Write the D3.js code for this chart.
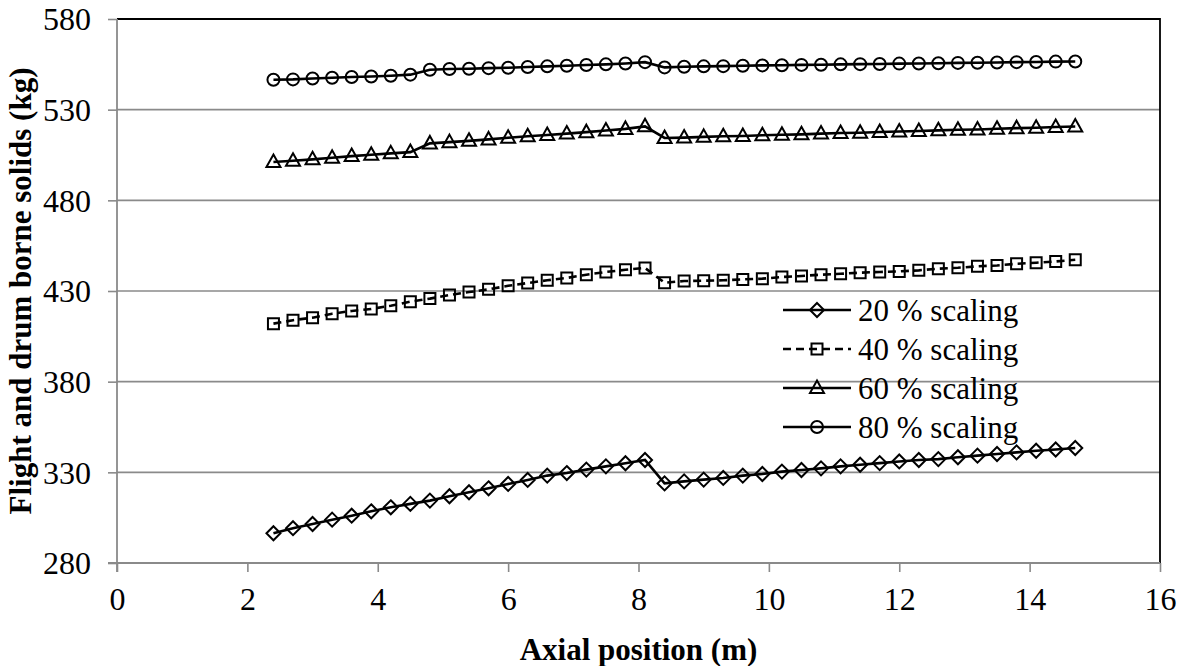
<!DOCTYPE html>
<html>
<head>
<meta charset="utf-8">
<script src="https://cdn.jsdelivr.net/npm/d3@7"></script>
<style>
  html, body { margin: 0; padding: 0; background: #fff; }
  svg { display: block; }
  svg text { font-family: "Liberation Serif", "Times New Roman", Times, serif; }
</style>
</head>
<body>
<svg id="chart" width="1186" height="666"></svg>
<script>
// Axial positions along the drum (m)
const positions = [2.4, 2.7, 3.0, 3.3, 3.6, 3.9, 4.2, 4.5, 4.8, 5.1, 5.4, 5.7, 6.0, 6.3,
  6.6, 6.9, 7.2, 7.5, 7.8, 8.1, 8.4, 8.7, 9.0, 9.3, 9.6, 9.9, 10.2, 10.5, 10.8, 11.1,
  11.4, 11.7, 12.0, 12.3, 12.6, 12.9, 13.2, 13.5, 13.8, 14.1, 14.4, 14.7];

// Flight and drum borne solids (kg) for each scaling case
const scaling20 = [296.4, 299.2, 301.5, 303.9, 306.1, 308.5, 310.7, 312.6, 314.4, 316.8,
  319.0, 321.2, 323.6, 325.8, 328.2, 329.6, 331.5, 333.3, 335.0, 336.8,
  323.9, 325.0, 326.0, 326.9, 328.2, 329.1, 330.4, 331.3, 332.2, 333.3, 334.2,
  335.1, 336.0, 336.8, 337.3, 338.3, 339.2, 340.1, 341.0, 341.9, 342.6, 343.4];

const scaling40 = [412.0, 413.9, 415.3, 417.5, 419.0, 420.1, 421.9, 424.1, 425.8, 427.8,
  429.4, 430.9, 432.9, 434.4, 435.9, 437.2, 439.0, 440.5, 441.7, 442.7,
  434.6, 435.5, 435.7, 435.9, 436.4, 436.8, 437.7, 438.3, 439.0, 439.5, 440.1,
  440.5, 440.8, 441.4, 442.3, 442.8, 443.6, 444.1, 445.0, 445.6, 446.3, 447.2];

const scaling60 = [501.1, 501.8, 502.6, 503.5, 504.4, 505.1, 505.9, 506.6, 511.4, 512.1,
  512.8, 513.6, 514.5, 515.3, 516.0, 516.8, 517.6, 518.5, 519.4, 520.8,
  514.4, 514.6, 515.0, 515.3, 515.5, 515.9, 516.2, 516.4, 516.8, 517.1, 517.3,
  517.7, 518.0, 518.2, 518.6, 518.9, 519.1, 519.5, 519.8, 520.0, 520.4, 520.7];

const scaling80 = [546.5, 546.7, 547.2, 547.6, 548.0, 548.3, 548.7, 549.3, 552.0, 552.4,
  552.6, 552.9, 553.1, 553.5, 553.9, 554.2, 554.6, 555.0, 555.5, 556.2,
  553.3, 553.7, 553.9, 554.0, 554.2, 554.4, 554.5, 554.7, 554.8, 555.0, 555.1,
  555.2, 555.4, 555.5, 555.6, 555.8, 555.9, 556.0, 556.2, 556.3, 556.5, 556.6];

const seriesNames = ["20 % scaling", "40 % scaling", "60 % scaling", "80 % scaling"];
const markerKinds = ["diamond", "square", "triangle", "circle"];
const lineDashes = [null, "8,5", null, null];

const xTicks = [0, 2, 4, 6, 8, 10, 12, 14, 16];
const yTicks = [280, 330, 380, 430, 480, 530, 580];

const xTitle = "Axial position (m)";
const yTitle = "Flight and drum borne solids (kg)";

// ---- layout ----
const serif = "'Liberation Serif', 'Times New Roman', Times, serif";
const plot = { left: 117, right: 1160, top: 19, bottom: 563 };
const gridColor = "#8a8a8a";

const svg = d3.select("#chart");
const x = d3.scaleLinear().domain([0, 16]).range([plot.left, plot.right]);
const y = d3.scaleLinear().domain([280, 580]).range([plot.bottom, plot.top]);

// horizontal gridlines
svg.append("g")
  .selectAll("line")
  .data(yTicks.filter(v => v !== 280 && v !== 580))
  .join("line")
  .attr("x1", plot.left).attr("x2", plot.right)
  .attr("y1", d => y(d)).attr("y2", d => y(d))
  .attr("stroke", gridColor).attr("stroke-width", 1.6);

// top and right frame
svg.append("path")
  .attr("d", `M${plot.left},${y(580)}H${plot.right}V${plot.bottom}`)
  .attr("fill", "none").attr("stroke", "#000").attr("stroke-width", 1.8);

// y axis
const yAxis = svg.append("g")
  .attr("transform", `translate(${plot.left},0)`)
  .call(d3.axisLeft(y).tickValues(yTicks).tickSize(9).tickPadding(17).tickSizeOuter(0));
yAxis.attr("font-family", serif);
yAxis.select(".domain").attr("stroke", gridColor).attr("stroke-width", 1.8)
  .attr("d", `M0,${plot.top}V${plot.bottom + 9}`);
yAxis.selectAll(".tick line").attr("stroke", gridColor).attr("stroke-width", 1.6);
yAxis.selectAll(".tick text")
  .attr("font-size", 32).attr("fill", "#000").attr("dy", "0.34em");

// x axis
const xAxis = svg.append("g")
  .attr("transform", `translate(0,${plot.bottom})`)
  .call(d3.axisBottom(x).tickValues(xTicks).tickSize(9).tickPadding(14).tickSizeOuter(0));
xAxis.attr("font-family", serif);
xAxis.select(".domain").attr("stroke", gridColor).attr("stroke-width", 1.8)
  .attr("d", `M${plot.left - 9},0H${plot.right}`);
xAxis.selectAll(".tick line").attr("stroke", gridColor).attr("stroke-width", 1.6);
xAxis.selectAll(".tick text")
  .attr("font-size", 32).attr("fill", "#000").attr("dy", "0.74em");

// axis titles
svg.append("text")
  .attr("x", (plot.left + plot.right) / 2).attr("y", 660)
  .attr("text-anchor", "middle")
  .attr("font-weight", "bold").attr("font-size", 31)
  .text(xTitle);

svg.append("text")
  .attr("transform", `translate(31,${(plot.top + plot.bottom) / 2}) rotate(-90)`)
  .attr("text-anchor", "middle")
  .attr("font-weight", "bold").attr("font-size", 31)
  .text(yTitle);

// marker shapes, centred on (0,0)
function markerPath(kind) {
  switch (kind) {
    case "diamond": return "M0,-7L7,0L0,7L-7,0Z";
    case "square": return "M-5.5,-5.5H5.5V5.5H-5.5Z";
    default: return "M0,-7.5L7,5L-7,5Z";
  }
}

function drawMarker(g, kind) {
  if (kind === "circle") {
    g.append("circle").attr("r", 6);
  } else {
    g.append("path").attr("d", markerPath(kind));
  }
  g.selectAll("*").attr("fill", "none").attr("stroke", "#000").attr("stroke-width", 2);
}

const allSeries = [scaling20, scaling40, scaling60, scaling80];
const line = d3.line().x((d, i) => x(positions[i])).y(d => y(d));

allSeries.forEach((vals, s) => {
  const g = svg.append("g");
  g.append("path")
    .attr("d", line(vals))
    .attr("fill", "none").attr("stroke", "#000").attr("stroke-width", 2.6)
    .attr("stroke-dasharray", lineDashes[s]);
  vals.forEach((v, i) => {
    const m = g.append("g").attr("transform", `translate(${x(positions[i])},${y(v)})`);
    drawMarker(m, markerKinds[s]);
  });
});

// legend
const legendRows = [310, 349, 388, 427];
const legend = svg.append("g");
seriesNames.forEach((name, s) => {
  const row = legend.append("g").attr("transform", `translate(0,${legendRows[s]})`);
  row.append("line")
    .attr("x1", 783).attr("x2", 851).attr("y1", 0).attr("y2", 0)
    .attr("stroke", "#000").attr("stroke-width", 2.6)
    .attr("stroke-dasharray", lineDashes[s]);
  const m = row.append("g").attr("transform", "translate(817,0)");
  drawMarker(m, markerKinds[s]);
  row.append("text")
    .attr("x", 858).attr("y", 0).attr("dy", "0.36em")
    .attr("font-size", 31).attr("fill", "#000")
    .text(name);
});
</script>
</body>
</html>
